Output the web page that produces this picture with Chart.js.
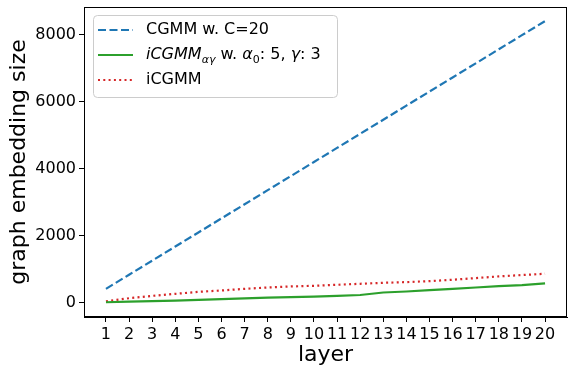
<!DOCTYPE html>
<html>
<head>
<meta charset="utf-8">
<script src="https://cdn.jsdelivr.net/npm/chart.js@4"></script>
<style>
  html, body { margin: 0; padding: 0; background: #fff; }
</style>
</head>
<body>
<canvas id="chart" width="569" height="369"></canvas>
<script>
// data
const layers = [1, 2, 3, 4, 5, 6, 7, 8, 9, 10, 11, 12, 13, 14, 15, 16, 17, 18, 19, 20];
const cgmmSize = [420, 840, 1260, 1680, 2100, 2520, 2940, 3360, 3780, 4200, 4620, 5040, 5460, 5880, 6300, 6720, 7140, 7560, 7980, 8400];
const icgmmAgSize = [20, 40, 55, 70, 90, 110, 135, 155, 175, 190, 210, 235, 310, 340, 380, 420, 460, 500, 530, 580];
const icgmmSize = [50, 140, 210, 270, 330, 370, 420, 460, 490, 510, 540, 570, 600, 620, 650, 690, 740, 790, 830, 870];
const yTicks = [0, 2000, 4000, 6000, 8000];

// legend labels, split in parts for italic / subscript text
const legendParts = [
  [{ t: "CGMM w. C=20" }],
  [
    { t: "iCGMM", it: true },
    { t: "αγ", it: true, sub: true },
    { t: " w. " },
    { t: "α", it: true },
    { t: "0", sub: true },
    { t: ": 5, " },
    { t: "γ", it: true },
    { t: ": 3" }
  ],
  [{ t: "iCGMM" }]
];

const FONT = "'DejaVu Sans', sans-serif";

const toPoints = (vals) => layers.map((l, i) => ({ x: l, y: vals[i] }));

// black box around plot, like matplotlib spines
const framePlugin = {
  id: "frame",
  afterDraw(chart) {
    const { ctx, chartArea: a } = chart;
    ctx.save();
    ctx.strokeStyle = "#000";
    ctx.lineWidth = 1;
    ctx.strokeRect(Math.round(a.left) + 0.5, Math.round(a.top) + 0.5,
      Math.round(a.right - a.left) - 1, Math.round(a.bottom - a.top) - 1);
    ctx.restore();
  }
};

// legend inside the plot (upper left)
const legendPlugin = {
  id: "boxLegend",
  afterDraw(chart) {
    const { ctx } = chart;
    const x = 93, y = 15, w = 244, h = 82;
    ctx.save();
    ctx.beginPath();
    ctx.roundRect(x + 0.5, y + 0.5, w, h, 4);
    ctx.fillStyle = "rgba(255,255,255,0.8)";
    ctx.fill();
    ctx.strokeStyle = "#cccccc";
    ctx.lineWidth = 1;
    ctx.stroke();

    const rows = [30, 55, 80];
    chart.data.datasets.forEach((ds, i) => {
      const cy = rows[i];
      ctx.beginPath();
      ctx.setLineDash(ds.borderDash || []);
      ctx.strokeStyle = ds.borderColor;
      ctx.lineWidth = ds.borderWidth;
      ctx.moveTo(98, cy);
      ctx.lineTo(133, cy);
      ctx.stroke();
      ctx.setLineDash([]);

      let tx = 146;
      ctx.fillStyle = "#000";
      ctx.textBaseline = "middle";
      legendParts[i].forEach((p) => {
        const size = p.sub ? 11 : 16;
        ctx.font = (p.it ? "italic " : "") + size + "px " + FONT;
        ctx.fillText(p.t, tx, cy + (p.sub ? 5 : 0));
        tx += ctx.measureText(p.t).width;
      });
    });
    ctx.restore();
  }
};

new Chart(document.getElementById("chart"), {
  type: "line",
  data: {
    datasets: [
      {
        label: "CGMM w. C=20",
        data: toPoints(cgmmSize),
        borderColor: "#1f77b4",
        borderWidth: 2.2,
        borderDash: [8, 3.5]
      },
      {
        label: "iCGMM_ag w. a0: 5, g: 3",
        data: toPoints(icgmmAgSize),
        borderColor: "#2ca02c",
        borderWidth: 2.2
      },
      {
        label: "iCGMM",
        data: toPoints(icgmmSize),
        borderColor: "#d62728",
        borderWidth: 2.2,
        borderDash: [2, 3.3]
      }
    ]
  },
  options: {
    responsive: false,
    animation: false,
    devicePixelRatio: 1,
    layout: { padding: { top: 7, right: 2, left: 0, bottom: 0 } },
    elements: { point: { radius: 0 }, line: { tension: 0 } },
    plugins: { legend: { display: false }, tooltip: { enabled: false } },
    scales: {
      x: {
        type: "linear",
        min: 0.05,
        max: 20.95,
        afterBuildTicks: (axis) => { axis.ticks = layers.map((v) => ({ value: v })); },
        afterFit: (axis) => { axis.height = 52; },
        ticks: {
          autoSkip: false,
          maxRotation: 0,
          padding: 3,
          color: "#000",
          font: { family: FONT, size: 16 }
        },
        grid: { drawOnChartArea: false, tickLength: 5, color: "#000" },
        border: { color: "#000" },
        title: {
          display: true,
          text: "layer",
          color: "#000",
          font: { family: FONT, size: 22 },
          padding: { top: 0, bottom: 1 }
        }
      },
      y: {
        min: -420,
        max: 8820,
        afterBuildTicks: (axis) => { axis.ticks = yTicks.map((v) => ({ value: v })); },
        afterFit: (axis) => {
          axis.width = 84;
          axis.paddingTop = 0;
          axis.paddingBottom = 0;
        },
        ticks: {
          padding: 3,
          color: "#000",
          font: { family: FONT, size: 16 },
          callback: (v) => String(v)
        },
        grid: { drawOnChartArea: false, tickLength: 5, color: "#000" },
        border: { color: "#000" },
        title: {
          display: true,
          text: "graph embedding size",
          color: "#000",
          font: { family: FONT, size: 22 },
          padding: { top: 6, bottom: 0 }
        }
      }
    }
  },
  plugins: [framePlugin, legendPlugin]
});
</script>
</body>
</html>
